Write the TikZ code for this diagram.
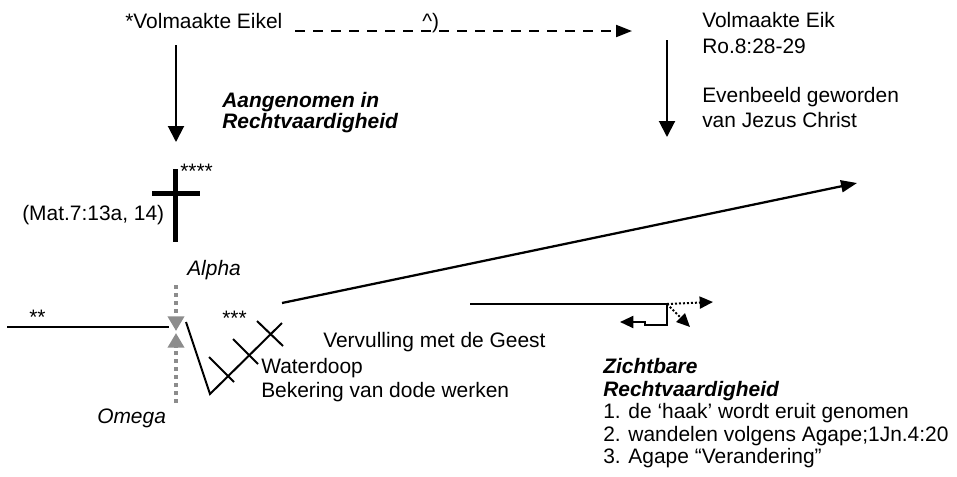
\documentclass[tikz,border=0pt]{standalone}
\usepackage{fontspec}
\setmainfont{Liberation Sans}
\usetikzlibrary{arrows.meta}
\begin{document}
\begin{tikzpicture}[x=0.75pt,y=-0.75pt,
  txt/.style={anchor=base west, inner sep=0pt, font=\fontsize{15.7}{18}\selectfont},
  btxt/.style={txt, font=\fontsize{15.7}{18}\selectfont\bfseries\itshape},
  itxt/.style={txt, font=\fontsize{15.7}{18}\selectfont\itshape},
  stroke/.style={line width=1.5pt, line cap=butt},
  bigarr/.style={stroke, -{Triangle[length=12pt,width=12pt]}},
  longarr/.style={line width=1.7pt, -{Triangle[length=12pt,width=9pt]}},
  dasharr/.style={line width=1.5pt, dash pattern=on 7.5pt off 6pt, -{Triangle[length=12pt,width=9pt]}},
  smallarr/.style={stroke, -{Triangle[length=10pt,width=9pt]}},
  dotarr/.style={line width=1.5pt, dash pattern=on 1.5pt off 1.5pt, -{Triangle[length=10pt,width=9pt]}},
  grayarr/.style={draw=gray!90, line width=3pt, dash pattern=on 3pt off 3pt, -{Triangle[length=11pt,width=12pt,fill=gray!90]}},
  thick cross/.style={line width=3.75pt}]
\fill[white] (0,0) rectangle (957,476);
\useasboundingbox (0,0) rectangle (957,476);

% --- top row
\node[txt] (eikel) at (125,28) {*Volmaakte Eikel};
\node[txt] (caret) at (422,28) {\textasciicircum)};
\coordinate (d0) at (295,31);
\coordinate (d1) at (632,31);
\draw[dasharr] (d0) -- (d1);

\node[txt] (eik1) at (702,27) {Volmaakte Eik};
\node[txt] (eik2) at (702,53) {Ro.8:28-29};
\node[txt] (eik3) at (702,102) {Evenbeeld geworden};
\node[txt] (eik4) at (702,127) {van Jezus Christ};

% --- vertical arrows
\coordinate (a0) at (176,45);
\coordinate (a1) at (176,142);
\draw[bigarr] (a0) -- (a1);
\coordinate (b0) at (667,40);
\coordinate (b1) at (667,137);
\draw[bigarr] (b0) -- (b1);

\node[btxt] (aang1) at (222,107) {Aangenomen in};
\node[btxt] (aang2) at (222,128) {Rechtvaardigheid};

% --- cross
\node[txt] (stars4) at (180,178) {****};
\draw[thick cross] (175,169) -- (175,242);
\draw[thick cross] (152,193) -- (200,193);
\node[txt] (mat) at (22,220) {(Mat.7:13a, 14)};

% --- alpha / omega
\node[itxt] (alpha) at (187,275) {Alpha};
\node[itxt] (omega) at (97,423) {Omega};
\coordinate (al0) at (176,285);
\coordinate (waistT) at (176,331);
\coordinate (om0) at (176,403);
\coordinate (waistB) at (176,333);
\draw[grayarr] (al0) -- (waistT);
\draw[grayarr] (om0) -- (waistB);

% --- left line
\coordinate (l0) at (7,327);
\coordinate (l1) at (169,327);
\draw[stroke] (l0) -- (l1);
\node[txt] (stars2) at (29,324) {**};
\node[txt] (stars3) at (222,325) {***};

% --- zigzag with crosses
\draw[stroke, line join=miter] (186,322) -- (210,394) -- (282,323);
\draw[stroke] (209,357) -- (234,382);
\draw[stroke] (233,339) -- (258,364);
\draw[stroke] (257,321) -- (283,346);

% --- long rising arrow
\coordinate (r0) at (282,303);
\coordinate (r1) at (857,183);
\draw[longarr] (r0) -- (r1);

\node[txt] (geest) at (323,347) {Vervulling met de Geest};
\node[txt] (water) at (261,373) {Waterdoop};
\node[txt] (bekering) at (261,397) {Bekering van dode werken};

% --- hook
\coordinate (h0) at (470,304);
\coordinate (hc) at (667,304);
\coordinate (hl) at (620,322);
\coordinate (hr) at (713,302);
\coordinate (hd) at (690,327);
\draw[stroke] (h0) -- (hc);
\draw[smallarr, line join=miter] (hc) -- (667,325) -- (645,325) -- (645,322) -- (hl);
\draw[dotarr] (hc) -- (hr);
\draw[dotarr] (hc) -- (hd);

% --- list
\node[btxt] (zicht1) at (603,373) {Zichtbare};
\node[btxt] (zicht2) at (603,396) {Rechtvaardigheid};
\node[txt] (li1) at (603,418) {1. de ‘haak’ wordt eruit genomen};
\node[txt] (li2) at (603,441) {2. wandelen volgens Agape;1Jn.4:20};
\node[txt] (li3) at (603,463) {3. Agape “Verandering”};
\end{tikzpicture}
\end{document}
